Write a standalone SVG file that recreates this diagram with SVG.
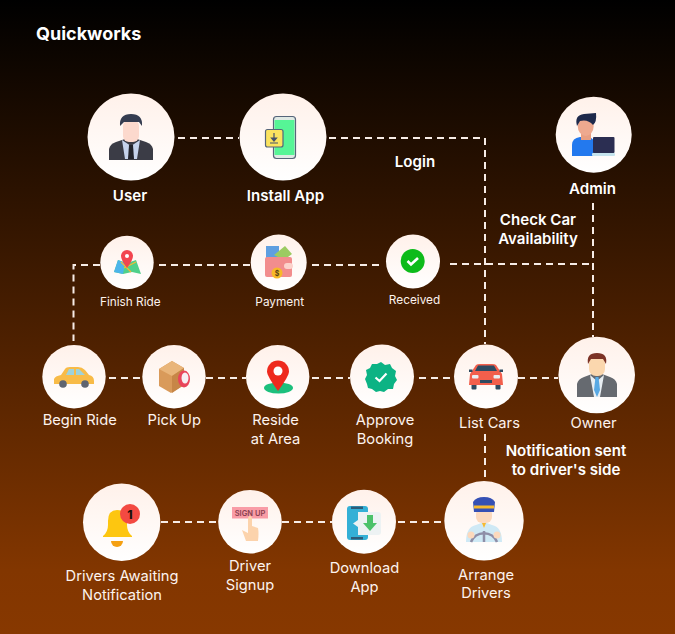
<svg xmlns="http://www.w3.org/2000/svg" width="675" height="634" viewBox="0 0 675 634">
<defs>
<linearGradient id="bg" x1="0" y1="0" x2="0" y2="1"><stop offset="0" stop-color="#000"/><stop offset="0.9" stop-color="#823600"/><stop offset="1" stop-color="#873800"/></linearGradient>
<linearGradient id="disc" x1="0" y1="0" x2="0" y2="1"><stop offset="0" stop-color="#fff1ea"/><stop offset="1" stop-color="#fff"/></linearGradient>
</defs>
<style>
.c{fill:url(#disc)}
.t{font-family:Inter,"Liberation Sans",sans-serif;fill:#fdf3ee;text-anchor:middle;font-size:14.700px;font-weight:400}
.b{font-weight:600;font-size:15.100px;fill:#fff}
.s{font-size:11.800px}
#connectors path{fill:none;stroke:#f7ece6;stroke-width:2;stroke-dasharray:7 5}
</style>
<rect width="675" height="634" fill="url(#bg)"/>
<text x="36" y="40" font-family="Inter,'Liberation Sans',sans-serif" font-size="18" font-weight="700" fill="#fff" id="logo">Quickworks</text>
<g id="connectors">
<path d="M178 138H239"/>
<path d="M329 138H485V344"/>
<path d="M593 203V337"/>
<path d="M450 264H593"/>
<path d="M379 265H307"/>
<path d="M250 265H154"/>
<path d="M100 265H73.500V341"/>
<path d="M109 378H142"/>
<path d="M206 378H246"/>
<path d="M312 378H350"/>
<path d="M419 378H454"/>
<path d="M518 378H558"/>
<path d="M485 434V481"/>
<path d="M161 522H218"/>
<path d="M282 522H332"/>
<path d="M398 522H444"/>
</g>
<g id="user"><circle class="c" cx="131" cy="137" r="43.500"/>
<path d="M109 160V149Q110 144 116 142L125 139H137L146 142Q152 144 153 149V160Z" fill="#3b3c46"/>
<path d="M122 140L131 146L140 140L137 159H125Z" fill="#c6d3ec"/>
<path d="M129 145H133L134 159H128Z" fill="#23242c"/>
<rect x="123" y="120" width="16" height="22" rx="6" fill="#fcd9cd"/>
<path d="M120 126Q119 114 131 114Q143 114 142 126L139 122H124Z" fill="#353c50"/>
<text class="t b" x="130" y="200.500">User</text></g>
<g id="install"><circle class="c" cx="283" cy="137" r="43.500"/>
<rect x="273.500" y="116.500" width="22" height="42" rx="3" fill="#dfe9e4" stroke="#56657a" stroke-width="1.200"/>
<rect x="274.500" y="120" width="20" height="35" fill="#56f596"/>
<rect x="265.500" y="129.500" width="17.500" height="17.500" rx="2" fill="#fbe35f" stroke="#56657a" stroke-width="1.200"/>
<path d="M274 133V139M271.500 138H276.500L274 141ZM270 143H278" stroke="#46526a" stroke-width="1.200" fill="#46526a"/>
<text class="t b" x="285.500" y="200.500">Install App</text></g>
<g id="admin"><circle class="c" cx="593.700" cy="134.700" r="38"/>
<path d="M572 156V145Q572 138 580 137H590L596 142V156Z" fill="#2379ee"/>
<rect x="581" y="125" width="10" height="15" fill="#e89f83"/>
<ellipse cx="585.700" cy="126" rx="8" ry="10" fill="#eea98f"/>
<path d="M577 126Q574 115 584 114L596 113Q597 122 593 125Q588 119 580 121Z" fill="#1e2a4c"/>
<rect x="593" y="137" width="21.500" height="16" rx="1" fill="#2b2e52"/>
<rect x="592" y="153" width="23" height="3" rx="1" fill="#c5e4ee"/>
<text class="t b" x="592.500" y="193.500">Admin</text></g>
<g id="received"><circle class="c" cx="413" cy="261.500" r="27"/>
<circle cx="412.700" cy="261" r="12" fill="#0dbb1a"/>
<path d="M407.500 261L411 264.500L418 258" fill="none" stroke="#fff" stroke-width="2.600"/>
<text class="t s" x="414.500" y="304">Received</text></g>
<g id="finish"><circle class="c" cx="127" cy="262.500" r="26.700"/>
<path d="M118 260L127 263L136 260L141 274L132 272L123 274L114 272Z" fill="#4fd08a"/>
<path d="M118 260L114 272L123 274L125 263Z" fill="#4cb5ea"/>
<path d="M121 262L131 272M136 262L124 268" stroke="#f7b733" stroke-width="1.200"/>
<path d="M127 268Q121 260 121 256A6 6 0 0 1 133 256Q133 260 127 268Z" fill="#f2454f"/>
<circle cx="127" cy="256" r="2" fill="#fff"/>
<text class="t s" x="130.300" y="306">Finish Ride</text></g>
<g id="payment"><circle class="c" cx="278.700" cy="262.500" r="28"/>
<rect x="266" y="246" width="13" height="14" fill="#5f9fe0"/>
<path d="M274 255L285 246L292 254L284 260Z" fill="#9ccb62"/>
<rect x="265" y="257" width="27" height="20" rx="2" fill="#f28d8d"/>
<rect x="284" y="263" width="9" height="6" rx="3" fill="#fcd2cb"/>
<circle cx="277" cy="273" r="5.500" fill="#f7b928"/>
<text x="277" y="275.500" font-family="Inter,sans-serif" font-size="7" font-weight="700" fill="#5a4216" text-anchor="middle">$</text>
<text class="t s" x="279.700" y="306">Payment</text></g>
<g id="begin"><circle class="c" cx="74" cy="376.700" r="31.700"/>
<path d="M54 384V379Q55 376 61 375L65 369Q66 367 70 367H78Q82 367 85 370L89 375Q94 376 94 381V384Z" fill="#f8bb47"/>
<path d="M66 375L69 369H74V375ZM76 369H79L85 375H76Z" fill="#9fd2da"/>
<circle cx="63" cy="384" r="3.800" fill="#5f6470"/><circle cx="85" cy="384" r="3.800" fill="#5f6470"/>
<text class="t" x="79.700" y="425.300">Begin Ride</text></g>
<g id="pickup"><circle class="c" cx="174" cy="376.700" r="31.700"/>
<path d="M159 369L172 361L184 368V385L171 393L159 386Z" fill="#d99a5a"/>
<path d="M159 369L172 376L184 368L172 361Z" fill="#e9b57a"/>
<path d="M172 376V393L184 385V368Z" fill="#c78647"/>
<ellipse cx="184" cy="379" rx="6" ry="8.500" fill="#e9445a"/>
<ellipse cx="185" cy="378" rx="3.500" ry="5.500" fill="#f6eef2"/>
<text class="t" x="174.300" y="425.300">Pick Up</text></g>
<g id="reside"><circle class="c" cx="277.700" cy="376.700" r="31.700"/>
<ellipse cx="278.500" cy="388" rx="14.500" ry="5.500" fill="#1cc07d"/>
<path d="M278 391Q267 376 267 371.500A11 11 0 0 1 289 371.500Q289 376 278 391Z" fill="#ee2a1e"/>
<circle cx="278" cy="371" r="4.500" fill="#fff"/>
<text class="t" x="275.500" y="425.300">Reside</text><text class="t" x="275.500" y="444.300">at Area</text></g>
<g id="approve"><circle class="c" cx="382" cy="376.500" r="32"/>
<path d="M381 362L385 365L390 364L392 368L396 371L395 376L397 380L394 384L393 389L388 389L384 392L380 391L376 392L372 389L368 388L367 384L365 379L367 375L366 370L370 368L372 364L377 364Z" fill="#0cb384"/>
<path d="M375.500 377.500L379.500 381L386.500 373.500" fill="none" stroke="#fff" stroke-width="2.200"/>
<text class="t" x="385" y="425.300">Approve</text><text class="t" x="385" y="444.300">Booking</text></g>
<g id="listcars"><circle class="c" cx="486" cy="376.500" r="32"/>
<rect x="471.500" y="383" width="5" height="6.500" rx="1" fill="#2f4a60"/><rect x="495.500" y="383" width="5" height="6.500" rx="1" fill="#2f4a60"/>
<path d="M470 374L476 365Q477 364 480 364H492Q495 364 496 365L502 374L503 385H469Z" fill="#f25f4c"/>
<path d="M475 371L478 365.500H494L497 371Z" fill="#2d4b62"/>
<rect x="469" y="369.500" width="3.500" height="2.500" fill="#2f4a60"/><rect x="499.500" y="369.500" width="3.500" height="2.500" fill="#2f4a60"/>
<rect x="472" y="375" width="6.500" height="3.500" rx="1" fill="#e9eef1"/><rect x="493.500" y="375" width="6.500" height="3.500" rx="1" fill="#e9eef1"/>
<rect x="480" y="380" width="12" height="3" fill="#2f4a60"/>
<text class="t" x="489.500" y="428.300">List Cars</text></g>
<g id="owner"><circle class="c" cx="596.700" cy="375" r="38.300"/>
<path d="M577 397V384Q578 379 584 377L592 374H602L610 377Q616 379 617 384V397Z" fill="#666a70"/>
<path d="M590 375L597 381L604 375L600 397H594Z" fill="#e8eef2"/>
<path d="M595.500 377H598.500L600 390L597 397L594 390Z" fill="#58a9e4"/>
<rect x="589" y="356" width="16" height="20" rx="7" fill="#fbd7ae"/>
<path d="M588 364Q586 353 597 353Q608 353 606 364L603 359H591Z" fill="#7c3326"/>
<text class="t" x="593.500" y="428.300">Owner</text></g>
<g id="awaiting"><circle class="c" cx="121.700" cy="522.200" r="38.700"/>
<path d="M111 541A6 6 0 0 0 123 541Z" fill="#f5a012"/>
<path d="M103 536Q108 532 108 525V521Q108 510 117 510Q127 510 127 521V525Q127 532 132 536V537H103Z" fill="#fdc610"/>
<circle cx="130" cy="514" r="10" fill="#f34a42"/>
<text x="130" y="518.500" font-family="Inter,sans-serif" font-size="12" font-weight="800" fill="#1a1008" text-anchor="middle">1</text>
<text class="t" x="122" y="581">Drivers Awaiting</text><text class="t" x="122" y="599.500">Notification</text></g>
<g id="signup"><circle class="c" cx="250" cy="521.700" r="31.800"/>
<rect x="232" y="507" width="36" height="11.500" fill="#f99ca6"/>
<text x="250" y="515.500" font-family="Inter,sans-serif" font-size="7.500" font-weight="600" fill="#8a4150" text-anchor="middle">SIGN UP</text>
<path d="M242 530L248 533V519Q248 516 250 516Q252 516 252 519V526L258 528Q259 533 258 541H246Z" fill="#fcd3ac"/>
<text class="t" x="250" y="571.300">Driver</text><text class="t" x="250" y="590.300">Signup</text></g>
<g id="download"><circle class="c" cx="364" cy="521.700" r="32"/>
<rect x="347" y="506" width="21" height="34" rx="3" fill="#34b0d6"/>
<rect x="351" y="506.500" width="12" height="2.500" fill="#2e5c78"/><rect x="351" y="537" width="12" height="2.500" fill="#2e5c78"/>
<path d="M358 512H378Q381 512 381 515V532Q381 535 378 535H358V527L353 523.500L358 520Z" fill="#edf2f3"/>
<path d="M367 515H373V523H377L370 531L363 523H367Z" fill="#4cc26a"/>
<text class="t" x="364.500" y="573.300">Download</text><text class="t" x="364.500" y="592.300">App</text></g>
<g id="arrange"><circle class="c" cx="484" cy="520.700" r="39.700"/>
<path d="M466 542Q466 527 476 525L484 522L492 525Q502 527 502 542Z" fill="#cfe9f5"/>
<rect x="476" y="508" width="16" height="15" rx="6" fill="#fcd9bd"/>
<path d="M473 502Q476 497 484 497Q492 497 495 502L494 512H474Z" fill="#3550b4"/>
<rect x="474" y="505.500" width="20" height="3" fill="#f7b92e"/>
<path d="M482 523L484 528L486 523Z" fill="#f7b92e"/>
<path d="M471 542A14 14 0 0 1 497 542" fill="none" stroke="#8e8ea8" stroke-width="2.500"/>
<path d="M484 531V542" stroke="#8e8ea8" stroke-width="2.500"/>
<circle cx="471" cy="535" r="3.500" fill="#fcd9bd"/><circle cx="497" cy="535" r="3.500" fill="#fcd9bd"/>
<text class="t" x="486" y="580.300">Arrange</text><text class="t" x="486" y="598.300">Drivers</text></g>
<g id="edge-labels">
<text class="t b" x="415" y="166.500">Login</text>
<text class="t b" x="538" y="225">Check Car</text><text class="t b" x="538" y="244">Availability</text>
<text class="t b" x="566" y="456">Notification sent</text><text class="t b" x="566" y="475">to driver's side</text>
</g>
</svg>
